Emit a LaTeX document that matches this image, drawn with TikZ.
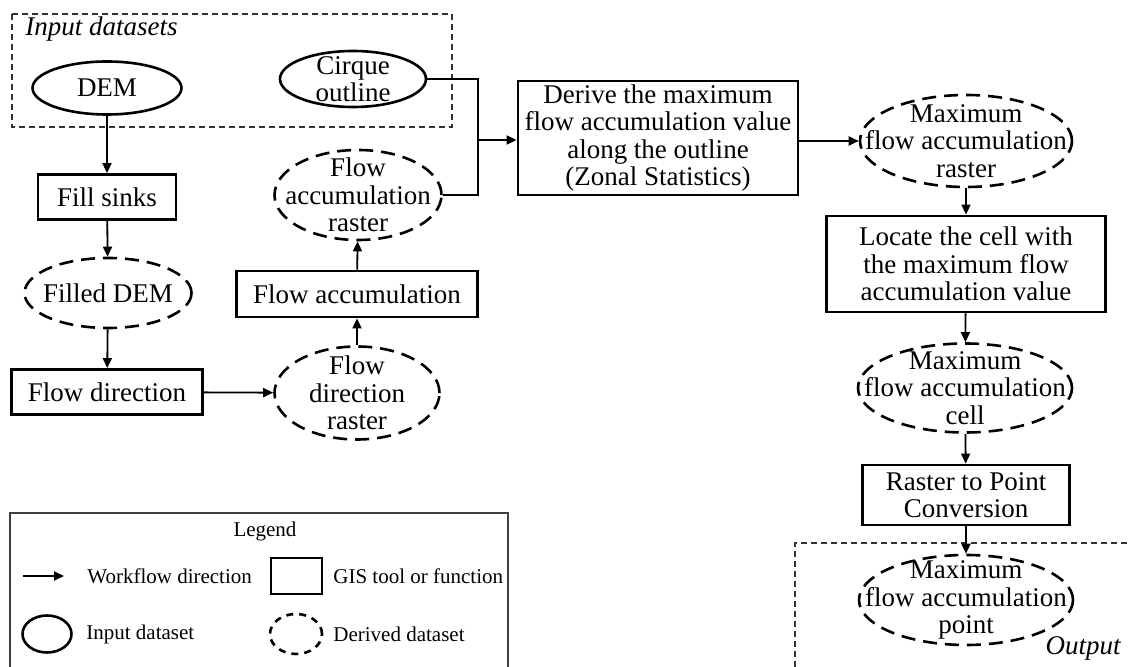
\documentclass[tikz,border=0pt]{standalone}
\usepackage{fontspec}
\setmainfont{Liberation Serif}
\usetikzlibrary{shapes.geometric,arrows.meta}
\begin{document}
\begin{tikzpicture}[x=0.5pt,y=-0.5pt,
  every node/.style={font=\fontsize{13.5}{13.8}\selectfont},
  tool/.style={draw,line width=1.4pt,rectangle,inner sep=0pt,align=center},
  indata/.style={draw,line width=1.3pt,ellipse,inner sep=0pt},
  derived/.style={draw,line width=1.3pt,ellipse,inner sep=0pt,dash pattern=on 7pt off 4pt},
  etext/.style={label={[align=center,font=\fontsize{13.5}{13.8}\selectfont]center:#1}},
  flow/.style={line width=0.9pt,-{Triangle[length=5pt,width=4.5pt]}},
  groupbox/.style={line width=0.6pt,dash pattern=on 3pt off 2pt,black!80},
  legline/.style={line width=0.6pt,black!75},
  legtext/.style={font=\fontsize{10.5}{12}\selectfont,anchor=west,inner sep=0pt},
  ital/.style={font=\fontsize{13.5}{13.8}\selectfont\itshape,inner sep=0pt}
]
\useasboundingbox (0,0) rectangle (1130,667);

% group boxes
\draw[groupbox] (12,14) rectangle (452,127);
\node[ital,anchor=west] (inlab) at (25,29) {Input datasets};
\draw[groupbox] (795,667) -- (795,543) -- (1130,543);
\node[ital,anchor=east] (outlab) at (1121,648) {Output};

% nodes
\node[indata,minimum width=74.5pt,minimum height=26.5pt] (dem) at (107,88) {DEM};
\node[indata,minimum width=73pt,minimum height=28pt,etext={Cirque\\outline}] (cirque) at (353,79) {};
\node[tool,minimum width=69pt,minimum height=22.5pt] (fill) at (107,197) {Fill sinks};
\node[derived,minimum width=83.5pt,minimum height=35pt,etext={Filled DEM}] (filled) at (108,293) {};
\node[tool,minimum width=95.5pt,minimum height=22.5pt] (fdir) at (107,392) {Flow direction};
\node[derived,minimum width=82.5pt,minimum height=46.5pt,etext={Flow\\direction\\raster}] (fdirr) at (357,393) {};
\node[tool,minimum width=120.5pt,minimum height=23pt] (facc) at (357,294) {Flow accumulation};
\node[derived,minimum width=83.5pt,minimum height=45pt,etext={Flow\\accumulation\\raster}] (faccr) at (358,195) {};
\node[tool,minimum width=140pt,minimum height=57pt] (derive) at (658,138) {Derive the maximum\\flow accumulation value\\along the outline\\(Zonal Statistics)};
\node[derived,minimum width=106pt,minimum height=46pt,etext={Maximum\\flow accumulation\\raster}] (maxr) at (966,141) {};
\node[tool,minimum width=139.5pt,minimum height=48pt] (locate) at (966,264) {Locate the cell with\\the maximum flow\\accumulation value};
\node[derived,minimum width=107pt,minimum height=44.5pt,etext={Maximum\\flow accumulation\\cell}] (cell) at (965,388) {};
\node[tool,minimum width=103.5pt,minimum height=30pt] (r2p) at (966,495) {Raster to Point\\Conversion};
\node[derived,minimum width=107pt,minimum height=45pt,etext={Maximum\\flow accumulation\\point}] (point) at (966,600) {};

% connectors
\draw[flow] (dem) -- (fill);
\draw[flow] (fill) -- (filled);
\draw[flow] (filled) -- (fdir);
\draw[flow] (fdir) -- (fdirr);
\draw[flow] (fdirr) -- (facc);
\draw[flow] (facc) -- (faccr);
\coordinate (j) at (478,140);
\draw[line width=0.9pt] (cirque.east) -| (j);
\draw[line width=0.9pt] (faccr.east) -| (j);
\draw[flow] (j) -- (j -| derive.west);
\draw[flow] (derive.east |- maxr.west) -- (maxr.west);
\draw[flow] (maxr) -- (locate);
\draw[flow] (locate) -- (cell);
\draw[flow] (cell) -- (r2p);
\draw[flow] (r2p) -- (point);

% legend
\draw[legline] (10,667) -- (10,513) -- (508,513) -- (508,667);
\node[font=\fontsize{10.5}{12}\selectfont,inner sep=0pt] (legtitle) at (265,531) {Legend};
\coordinate (la1) at (23,576);
\coordinate (la2) at (64,576);
\draw[flow] (la1) -- (la2);
\node[legtext] (lt1) at (87,576) {Workflow direction};
\node[draw,line width=1.4pt,minimum width=25.5pt,minimum height=18pt,inner sep=0pt] (lrect) at (296.5,576) {};
\node[legtext] (lt2) at (333,576) {GIS tool or function};
\node[indata,minimum width=24.5pt,minimum height=18.5pt] (lell) at (47,634) {};
\node[legtext] (lt3) at (86,634) {Input dataset};
\node[derived,minimum width=26pt,minimum height=20pt,dash pattern=on 3.5pt off 3pt] (ldell) at (296,634) {};
\node[legtext] (lt4) at (333,634) {Derived dataset};
\end{tikzpicture}
\end{document}
